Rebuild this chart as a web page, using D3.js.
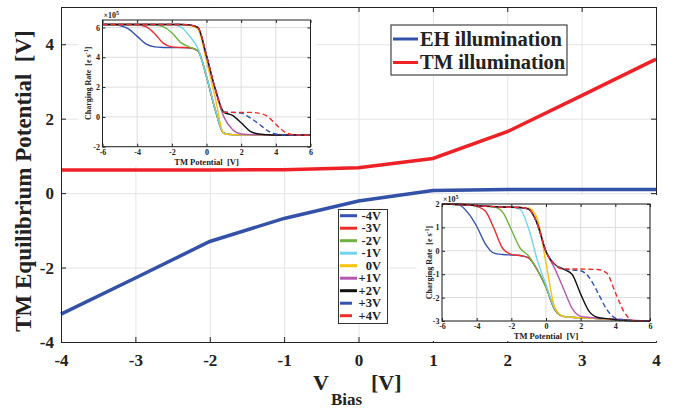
<!DOCTYPE html>
<html>
<head>
<meta charset="utf-8">
<script src="https://cdn.jsdelivr.net/npm/d3@7"></script>
<style>
body { margin: 0; background: #fff; }
text { font-family: "Liberation Serif", "Times New Roman", serif; font-weight: bold; fill: #222; }
</style>
</head>
<body>
<script>
// main chart data
var vbias = [-4, -3, -2, -1, 0, 1, 2, 3, 4];
var ehIllum = [-3.25, -2.28, -1.3, -0.68, -0.21, 0.07, 0.1, 0.1, 0.1];
var tmIllum = [0.62, 0.62, 0.62, 0.63, 0.68, 0.93, 1.65, 2.62, 3.6];

// inset data: charging rate (x1e5) vs TM potential
var tmPot = [-6, -5.5, -5, -4.5, -4, -3.5, -3, -2.5, -2, -1.5, -1, -0.5, 0, 0.5, 1, 1.5, 2, 2.5, 3, 3.5, 4, 4.5, 5, 5.5, 6];
var biasNames = ["-4V", "-3V", "-2V", "-1V", "0V", "+1V", "+2V", "+3V", "+4V"];

var topRates = [
  [6.2, 6.2, 6.12, 5.9, 5.4, 4.9, 4.7, 4.66, 4.65, 4.65, 4.63, 4.45, 2.7, 0.5, -1.1, -1.19, -1.2, -1.2, -1.21, -1.21, -1.22, -1.22, -1.22, -1.22, -1.22],
  [6.2, 6.2, 6.2, 6.2, 6.18, 6.05, 5.6, 4.95, 4.7, 4.66, 4.64, 4.45, 2.7, 0.5, -1.1, -1.19, -1.2, -1.2, -1.21, -1.21, -1.22, -1.22, -1.22, -1.22, -1.22],
  [6.2, 6.2, 6.2, 6.2, 6.2, 6.2, 6.18, 6.05, 5.65, 5.0, 4.7, 4.42, 2.7, 0.5, -1.1, -1.19, -1.2, -1.2, -1.21, -1.21, -1.22, -1.22, -1.22, -1.22, -1.22],
  [6.2, 6.2, 6.2, 6.2, 6.2, 6.2, 6.2, 6.2, 6.2, 6.05, 5.45, 4.6, 2.75, 0.55, -1.1, -1.19, -1.2, -1.2, -1.21, -1.21, -1.22, -1.22, -1.22, -1.22, -1.22],
  [6.2, 6.2, 6.2, 6.2, 6.2, 6.2, 6.2, 6.2, 6.2, 6.2, 6.15, 5.9, 3.75, 1.3, -1.12, -1.19, -1.2, -1.2, -1.21, -1.21, -1.22, -1.22, -1.22, -1.22, -1.22],
  [6.2, 6.2, 6.2, 6.2, 6.2, 6.2, 6.2, 6.2, 6.2, 6.2, 6.17, 6.0, 4.1, 1.85, 0.0, -0.85, -1.15, -1.19, -1.2, -1.21, -1.22, -1.22, -1.22, -1.22, -1.22],
  [6.2, 6.2, 6.2, 6.2, 6.2, 6.2, 6.2, 6.2, 6.2, 6.2, 6.17, 6.0, 4.1, 1.9, 0.32, 0.1, -0.4, -0.95, -1.15, -1.2, -1.22, -1.22, -1.22, -1.22, -1.22],
  [6.2, 6.2, 6.2, 6.2, 6.2, 6.2, 6.2, 6.2, 6.2, 6.2, 6.17, 6.0, 4.1, 1.9, 0.32, 0.3, 0.25, -0.05, -0.45, -0.9, -1.15, -1.2, -1.22, -1.22, -1.22],
  [6.2, 6.2, 6.2, 6.2, 6.2, 6.2, 6.2, 6.2, 6.2, 6.2, 6.17, 6.0, 4.1, 1.9, 0.32, 0.3, 0.3, 0.3, 0.25, 0.05, -0.5, -1.0, -1.2, -1.22, -1.22]
];

var bottomRates = [
  [2.0, 1.99, 1.95, 1.62, 1.05, 0.3, -0.1, -0.16, -0.18, -0.2, -0.3, -0.82, -1.55, -2.5, -2.8, -2.84, -2.86, -2.88, -2.9, -2.92, -2.94, -2.97, -2.99, -3.0, -3.0],
  [2.0, 2.0, 1.99, 1.98, 1.9, 1.7, 0.95, 0.1, -0.15, -0.2, -0.3, -0.82, -1.55, -2.5, -2.8, -2.84, -2.86, -2.88, -2.9, -2.92, -2.94, -2.97, -2.99, -3.0, -3.0],
  [2.0, 1.99, 1.98, 1.96, 1.93, 1.9, 1.87, 1.65, 0.9, 0.12, -0.22, -0.82, -1.55, -2.5, -2.8, -2.84, -2.86, -2.88, -2.9, -2.92, -2.94, -2.97, -2.99, -3.0, -3.0],
  [2.0, 1.99, 1.98, 1.96, 1.93, 1.91, 1.89, 1.87, 1.86, 1.78, 0.95, -0.4, -1.45, -2.45, -2.8, -2.84, -2.86, -2.88, -2.9, -2.92, -2.94, -2.97, -2.99, -3.0, -3.0],
  [2.0, 1.99, 1.98, 1.96, 1.93, 1.91, 1.89, 1.87, 1.86, 1.85, 1.83, 1.37, -0.53, -2.4, -2.8, -2.84, -2.86, -2.88, -2.9, -2.92, -2.94, -2.97, -2.99, -3.0, -3.0],
  [2.0, 1.99, 1.98, 1.96, 1.93, 1.91, 1.89, 1.87, 1.86, 1.85, 1.78, 1.15, -0.03, -0.75, -1.6, -2.45, -2.8, -2.85, -2.88, -2.9, -2.92, -2.94, -2.97, -2.99, -3.0],
  [2.0, 1.99, 1.98, 1.96, 1.93, 1.91, 1.89, 1.87, 1.86, 1.85, 1.78, 1.15, -0.03, -0.58, -0.78, -1.0, -1.85, -2.6, -2.85, -2.9, -2.94, -2.97, -2.99, -3.0, -3.0],
  [2.0, 1.99, 1.98, 1.96, 1.93, 1.91, 1.89, 1.87, 1.86, 1.85, 1.78, 1.15, -0.03, -0.58, -0.78, -0.82, -0.85, -1.15, -1.8, -2.5, -2.88, -2.95, -2.99, -3.0, -3.0],
  [2.0, 1.99, 1.98, 1.96, 1.93, 1.91, 1.89, 1.87, 1.86, 1.85, 1.78, 1.15, -0.03, -0.58, -0.78, -0.78, -0.78, -0.79, -0.8, -0.95, -1.78, -2.6, -2.98, -3.0, -3.0]
];

var curveColors = ["#3453b0", "#ee2a2a", "#6db33f", "#72d3ea", "#fbc20a", "#b458b0", "#111111", "#3453b0", "#ee2a2a"];
var curveDashed = [false, false, false, false, false, false, false, true, true];

var w = 681, h = 410;
var svg = d3.select("body").append("svg")
    .attr("width", w)
    .attr("height", h);

var xScale = d3.scaleLinear().domain([-4, 4]).range([61, 656]);
var yScale = d3.scaleLinear().domain([-4, 5]).range([342, 7]);
var yTickVals = [-4, -2, 0, 2, 4];
var plain = d => String(d);

// grid
svg.append("g")
    .attr("transform", "translate(0,342)")
    .call(d3.axisBottom(xScale).ticks(8).tickSize(-335).tickFormat(""))
    .call(g => { g.select(".domain").remove(); g.selectAll("line").attr("stroke", "#e4e4e4"); });
svg.append("g")
    .attr("transform", "translate(61,0)")
    .call(d3.axisLeft(yScale).tickValues(yTickVals).tickSize(-595).tickFormat(""))
    .call(g => { g.select(".domain").remove(); g.selectAll("line").attr("stroke", "#e4e4e4"); });

var mainLine = d3.line()
    .x((d, i) => xScale(vbias[i]))
    .y(d => yScale(d));

svg.append("path").datum(ehIllum)
    .attr("d", mainLine)
    .attr("fill", "none").attr("stroke", "#3451a8").attr("stroke-width", 3.5);
svg.append("path").datum(tmIllum)
    .attr("d", mainLine)
    .attr("fill", "none").attr("stroke", "#ee2226").attr("stroke-width", 3.5);

// axes
function styleAxis(g, size) {
    g.selectAll("text").attr("font-size", size).attr("font-family", null).style("fill", "#222");
    g.selectAll("line").attr("stroke", "#222");
    g.select(".domain").attr("stroke", "#222");
}
svg.append("g").attr("transform", "translate(0,342)")
    .call(d3.axisBottom(xScale).ticks(8).tickSize(-5).tickSizeOuter(0).tickPadding(12).tickFormat(plain))
    .call(g => styleAxis(g, 17));
svg.append("g").attr("transform", "translate(0,7)")
    .call(d3.axisTop(xScale).ticks(8).tickSize(-5).tickSizeOuter(0).tickFormat(""))
    .call(g => styleAxis(g, 17));
svg.append("g").attr("transform", "translate(61,0)")
    .call(d3.axisLeft(yScale).tickValues(yTickVals).tickSize(-5).tickSizeOuter(0).tickPadding(7).tickFormat(plain))
    .call(g => styleAxis(g, 17));
svg.append("g").attr("transform", "translate(656,0)")
    .call(d3.axisRight(yScale).tickValues(yTickVals).tickSize(-5).tickSizeOuter(0).tickFormat(""))
    .call(g => styleAxis(g, 17));

// axis titles
svg.append("text")
    .attr("transform", "translate(31,181) rotate(-90)")
    .attr("text-anchor", "middle")
    .attr("font-size", 23)
    .attr("xml:space", "preserve")
    .text("TM Equilibrium Potential  [V]");

var xt = svg.append("text").attr("x", 313).attr("y", 390).attr("font-size", 22);
xt.append("tspan").text("V");
xt.append("tspan").attr("font-size", 17).attr("dy", 15).attr("dx", 2).text("Bias");
xt.append("tspan").attr("dy", -15).attr("x", 371).text("[V]");

// insets
function drawInset(box, bg, yDom, yTicks, rates, lbl) {
    var ix = d3.scaleLinear().domain([-6, 6]).range([box.x0, box.x1]);
    var iy = d3.scaleLinear().domain(yDom).range([box.y1, box.y0]);
    var g = svg.append("g");
    g.append("rect")
        .attr("x", bg.x).attr("y", bg.y).attr("width", bg.w).attr("height", bg.h)
        .attr("fill", "#fff");

    var xt = [-6, -4, -2, 0, 2, 4, 6];
    g.selectAll(".gx").data(xt).enter().append("line")
        .attr("x1", d => ix(d)).attr("x2", d => ix(d))
        .attr("y1", box.y0).attr("y2", box.y1)
        .attr("stroke", "#dcdcdc");
    g.selectAll(".gy").data(yTicks).enter().append("line")
        .attr("x1", box.x0).attr("x2", box.x1)
        .attr("y1", d => iy(d)).attr("y2", d => iy(d))
        .attr("stroke", "#dcdcdc");

    var line = d3.line()
        .x((d, i) => ix(tmPot[i]))
        .y(d => iy(d))
        .curve(d3.curveMonotoneX);
    rates.forEach(function(r, k) {
        g.append("path").datum(r)
            .attr("d", line)
            .attr("fill", "none")
            .attr("stroke", curveColors[k])
            .attr("stroke-width", 1.4)
            .attr("stroke-dasharray", curveDashed[k] ? "5,3" : null);
    });

    g.append("rect")
        .attr("x", box.x0).attr("y", box.y0)
        .attr("width", box.x1 - box.x0).attr("height", box.y1 - box.y0)
        .attr("fill", "none").attr("stroke", "#222").attr("stroke-width", 1);

    g.append("g").attr("transform", "translate(0," + box.y1 + ")")
        .call(d3.axisBottom(ix).tickValues(xt).tickSize(-3).tickSizeOuter(0).tickPadding(2.5).tickFormat(plain))
        .call(a => { styleAxis(a, 8); a.select(".domain").remove(); });
    g.append("g").attr("transform", "translate(" + box.x0 + ",0)")
        .call(d3.axisLeft(iy).tickValues(yTicks).tickSize(-3).tickSizeOuter(0).tickPadding(2.5).tickFormat(plain))
        .call(a => { styleAxis(a, 8); a.select(".domain").remove(); });
    g.append("g").attr("transform", "translate(0," + box.y0 + ")")
        .call(d3.axisTop(ix).tickValues(xt).tickSize(-3).tickSizeOuter(0).tickFormat(""))
        .call(a => { styleAxis(a, 8); a.select(".domain").remove(); });
    g.append("g").attr("transform", "translate(" + box.x1 + ",0)")
        .call(d3.axisRight(iy).tickValues(yTicks).tickSize(-3).tickSizeOuter(0).tickFormat(""))
        .call(a => { styleAxis(a, 8); a.select(".domain").remove(); });

    var ex = g.append("text").attr("x", box.x0 + 1).attr("y", box.y0 - 2).attr("font-size", 8);
    ex.append("tspan").text("\u00d710");
    ex.append("tspan").attr("font-size", 6).attr("dy", -3).text("5");

    var yl = g.append("text")
        .attr("transform", "translate(" + lbl.yx + "," + ((box.y0 + box.y1) / 2) + ") rotate(-90)")
        .attr("text-anchor", "middle")
        .attr("font-size", 8)
        .attr("xml:space", "preserve");
    yl.append("tspan").text("Charging Rate  [e s");
    yl.append("tspan").attr("font-size", 6).attr("dy", -3).text("-1");
    yl.append("tspan").attr("dy", 3).text("]");

    g.append("text")
        .attr("x", (box.x0 + box.x1) / 2).attr("y", lbl.xy)
        .attr("text-anchor", "middle")
        .attr("font-size", 8.5)
        .attr("xml:space", "preserve")
        .text("TM Potential  [V]");
}

drawInset({x0: 102.5, x1: 310.5, y0: 20, y1: 146.7}, {x: 78, y: 8, w: 238, h: 158},
    [-2, 6.5], [-2, 0, 2, 4, 6], topRates, {yx: 91, xy: 165});
drawInset({x0: 442, x1: 650, y0: 204, y1: 321}, {x: 416, y: 195, w: 244, h: 146},
    [-3, 2], [-3, -2, -1, 0, 1, 2], bottomRates, {yx: 432, xy: 339});

// legend: illumination
var leg1 = svg.append("g");
leg1.append("rect").attr("x", 391).attr("y", 25).attr("width", 176).attr("height", 50)
    .attr("fill", "#fff").attr("stroke", "#444").attr("stroke-width", 1.2);
[["EH illumination", "#3451a8"], ["TM illumination", "#ee2226"]].forEach(function(d, i) {
    leg1.append("line").attr("x1", 393).attr("x2", 418)
        .attr("y1", 39 + i * 23.5).attr("y2", 39 + i * 23.5)
        .attr("stroke", d[1]).attr("stroke-width", 3);
    leg1.append("text").attr("x", 420).attr("y", 45.5 + i * 23.5)
        .attr("font-size", 20.5).text(d[0]);
});

// legend: bias voltages
var leg2 = svg.append("g");
leg2.append("rect").attr("x", 338.5).attr("y", 209.5).attr("width", 49).attr("height", 114)
    .attr("fill", "#fff").attr("stroke", "#333").attr("stroke-width", 1);
biasNames.forEach(function(n, i) {
    var y = 215.7 + i * 12.5;
    leg2.append("line").attr("x1", 340).attr("x2", curveDashed[i] ? 352 : 357)
        .attr("y1", y).attr("y2", y)
        .attr("stroke", curveColors[i]).attr("stroke-width", 3);
    leg2.append("text").attr("x", 381).attr("y", y + 4.2)
        .attr("text-anchor", "end").attr("font-size", 12.5).text(n);
});
</script>
</body>
</html>
